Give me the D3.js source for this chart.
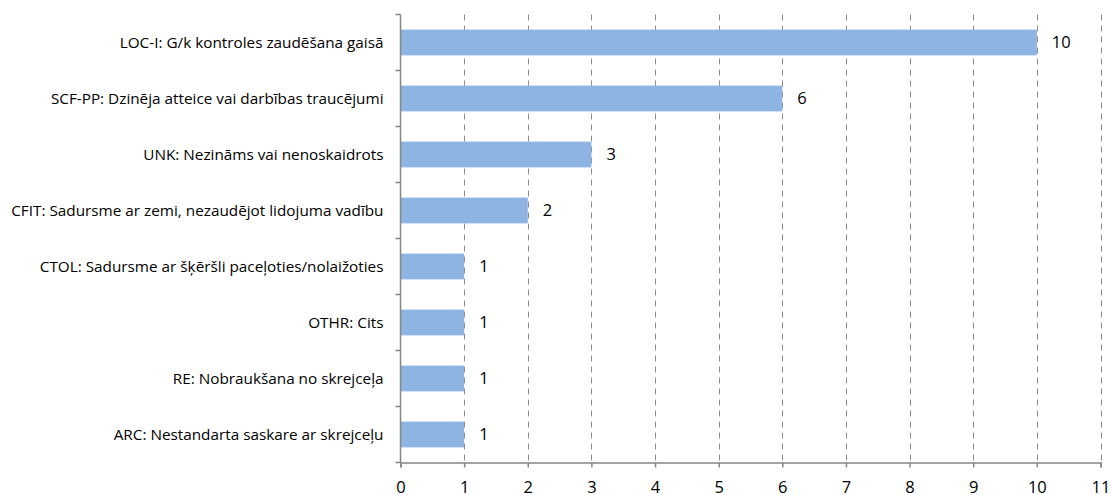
<!DOCTYPE html>
<html>
<head>
<meta charset="utf-8">
<script src="https://cdn.jsdelivr.net/npm/d3@7"></script>
<style>
  html, body { margin: 0; padding: 0; background: #fff; }
  svg { display: block; font-family: "Open Sans", sans-serif; }
</style>
</head>
<body>
<svg id="chart" width="1111" height="495"></svg>
<script>
const categories = [
  "LOC-I: G/k kontroles zaudēšana gaisā",
  "SCF-PP: Dzinēja atteice vai darbības traucējumi",
  "UNK: Nezināms vai nenoskaidrots",
  "CFIT: Sadursme ar zemi, nezaudējot lidojuma vadību",
  "CTOL: Sadursme ar šķēršli paceļoties/nolaižoties",
  "OTHR: Cits",
  "RE: Nobraukšana no skrejceļa",
  "ARC: Nestandarta saskare ar skrejceļu"
];
const values = [10, 6, 3, 2, 1, 1, 1, 1];
const xTicks = [0, 1, 2, 3, 4, 5, 6, 7, 8, 9, 10, 11];

const svg = d3.select("#chart");
const plotLeft = 400.5, plotRight = 1100.5, plotTop = 14.5, plotBottom = 462.5;

const x = d3.scaleLinear().domain([0, 11]).range([plotLeft, plotRight]);
const y = d3.scaleBand().domain(categories).range([plotTop, plotBottom]).paddingInner(0.54).paddingOuter(0.27);

const axisColor = "#868686";
const fontFamily = "'Open Sans', sans-serif";

// dashed vertical gridlines
svg.append("g")
  .selectAll("line")
  .data(xTicks.filter(d => d > 0))
  .join("line")
  .attr("x1", d => Math.round(x(d)) + 0.5)
  .attr("x2", d => Math.round(x(d)) + 0.5)
  .attr("y1", plotTop)
  .attr("y2", plotBottom)
  .attr("stroke", "#8c8c8c")
  .attr("stroke-width", 1)
  .attr("stroke-dasharray", "6,5");

// bars
svg.append("g")
  .selectAll("rect")
  .data(values)
  .join("rect")
  .attr("x", x(0))
  .attr("y", (d, i) => y(categories[i]))
  .attr("width", d => x(d) - x(0))
  .attr("height", y.bandwidth())
  .attr("fill", "#8EB4E3");

// value labels
svg.append("g")
  .selectAll("text")
  .data(values)
  .join("text")
  .attr("x", d => x(d) + 15)
  .attr("y", (d, i) => y(categories[i]) + y.bandwidth() / 2)
  .attr("dy", "0.36em")
  .attr("font-size", 16.5)
  .attr("fill", "#000")
  .text(d => d);

// x axis
const xAxis = d3.axisBottom(x).tickValues(xTicks).tickSize(5).tickPadding(14).tickFormat(d3.format("d"));
const gx = svg.append("g").attr("transform", `translate(0,${plotBottom})`).call(xAxis);
gx.select(".domain").attr("stroke", axisColor).attr("stroke-width", 1.5);
gx.selectAll(".tick line").attr("stroke", axisColor).attr("stroke-width", 1.5);
gx.selectAll(".tick text").attr("font-size", 16.5).attr("fill", "#000").attr("font-family", fontFamily);

// y axis: category separators as ticks, labels centred on bands
const step = (plotBottom - plotTop) / categories.length;
const gy = svg.append("g");
gy.append("line")
  .attr("x1", plotLeft).attr("x2", plotLeft)
  .attr("y1", plotTop).attr("y2", plotBottom)
  .attr("stroke", axisColor).attr("stroke-width", 1.5);
gy.selectAll("line.sep")
  .data(d3.range(categories.length + 1))
  .join("line")
  .attr("class", "sep")
  .attr("x1", plotLeft - 5).attr("x2", plotLeft)
  .attr("y1", i => plotTop + i * step)
  .attr("y2", i => plotTop + i * step)
  .attr("stroke", axisColor).attr("stroke-width", 1.5);
gy.selectAll("text")
  .data(categories)
  .join("text")
  .attr("x", plotLeft - 17)
  .attr("y", d => y(d) + y.bandwidth() / 2)
  .attr("dy", "0.36em")
  .attr("text-anchor", "end")
  .attr("font-size", 15.3)
  .attr("fill", "#000")
  .text(d => d);
</script>
</body>
</html>
